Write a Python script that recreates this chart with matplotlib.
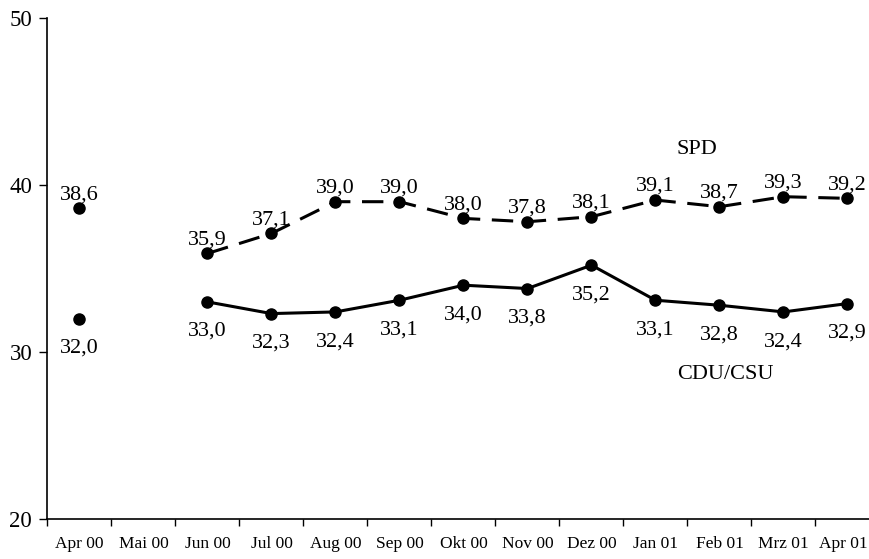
import numpy as np
import matplotlib
matplotlib.use("Agg")
import matplotlib.pyplot as plt
from matplotlib.ticker import FixedLocator, NullFormatter, FixedFormatter

months = ["Apr 00", "Mai 00", "Jun 00", "Jul 00", "Aug 00", "Sep 00", "Okt 00",
          "Nov 00", "Dez 00", "Jan 01", "Feb 01", "Mrz 01", "Apr 01"]
spd = [38.6, np.nan, 35.9, 37.1, 39.0, 39.0, 38.0, 37.8, 38.1, 39.1, 38.7, 39.3, 39.2]
cdu = [32.0, np.nan, 33.0, 32.3, 32.4, 33.1, 34.0, 33.8, 35.2, 33.1, 32.8, 32.4, 32.9]
y_ticks = [20, 30, 40, 50]

plt.rcParams["font.family"] = ["Liberation Serif", "DejaVu Serif"]

fig = plt.figure(figsize=(8.7, 5.59), dpi=100)
ax = fig.add_axes([47.5 / 870, 40 / 559, 832 / 870, 501 / 559])

x = np.arange(len(months)) + 0.5

ax.plot(x, spd, color="black", lw=2.2, ls=(0, (7, 3.8)), marker="o", ms=8,
        clip_on=False, zorder=3)
ax.plot(x, cdu, color="black", lw=2.2, ls="-", marker="o", ms=8,
        clip_on=False, zorder=3)

def fmt(v):
    return f"{v:.1f}".replace(".", ",")

for xi, v in zip(x, spd):
    if not np.isnan(v):
        ax.annotate(fmt(v), (xi, v), xytext=(0, 6.5), textcoords="offset points",
                    ha="center", va="baseline", fontsize=16)
for xi, v in zip(x, cdu):
    if not np.isnan(v):
        ax.annotate(fmt(v), (xi, v), xytext=(0, -14.5), textcoords="offset points",
                    ha="center", va="top", fontsize=16)

ax.text(10.15, 42.1, "SPD", ha="center", va="center", fontsize=16)
ax.text(10.59, 28.68, "CDU/CSU", ha="center", va="center", fontsize=16)

ax.set_xlim(0, len(months))
ax.set_ylim(20, 50)
ax.set_yticks(y_ticks)
ax.set_yticklabels([str(t) for t in y_ticks], fontsize=16.5)

# category labels sit between the boundary ticks; the last one is nudged
# inward so it stays inside the canvas
label_pos = x.copy()
label_pos[-1] -= 0.07
ax.xaxis.set_major_locator(FixedLocator(np.arange(len(months) + 1)))
ax.xaxis.set_major_formatter(NullFormatter())
ax.xaxis.set_minor_locator(FixedLocator(label_pos))
ax.xaxis.set_minor_formatter(FixedFormatter(months))
ax.tick_params(axis="x", which="major", direction="out", length=5, width=1)
ax.tick_params(axis="x", which="minor", length=0, pad=12, labelsize=12.5)
ax.tick_params(axis="y", direction="out", length=6, width=1, pad=5)

for s in ("top", "right"):
    ax.spines[s].set_visible(False)
for s in ("left", "bottom"):
    ax.spines[s].set_linewidth(1.2)

fig.savefig("out.png", dpi=100)
